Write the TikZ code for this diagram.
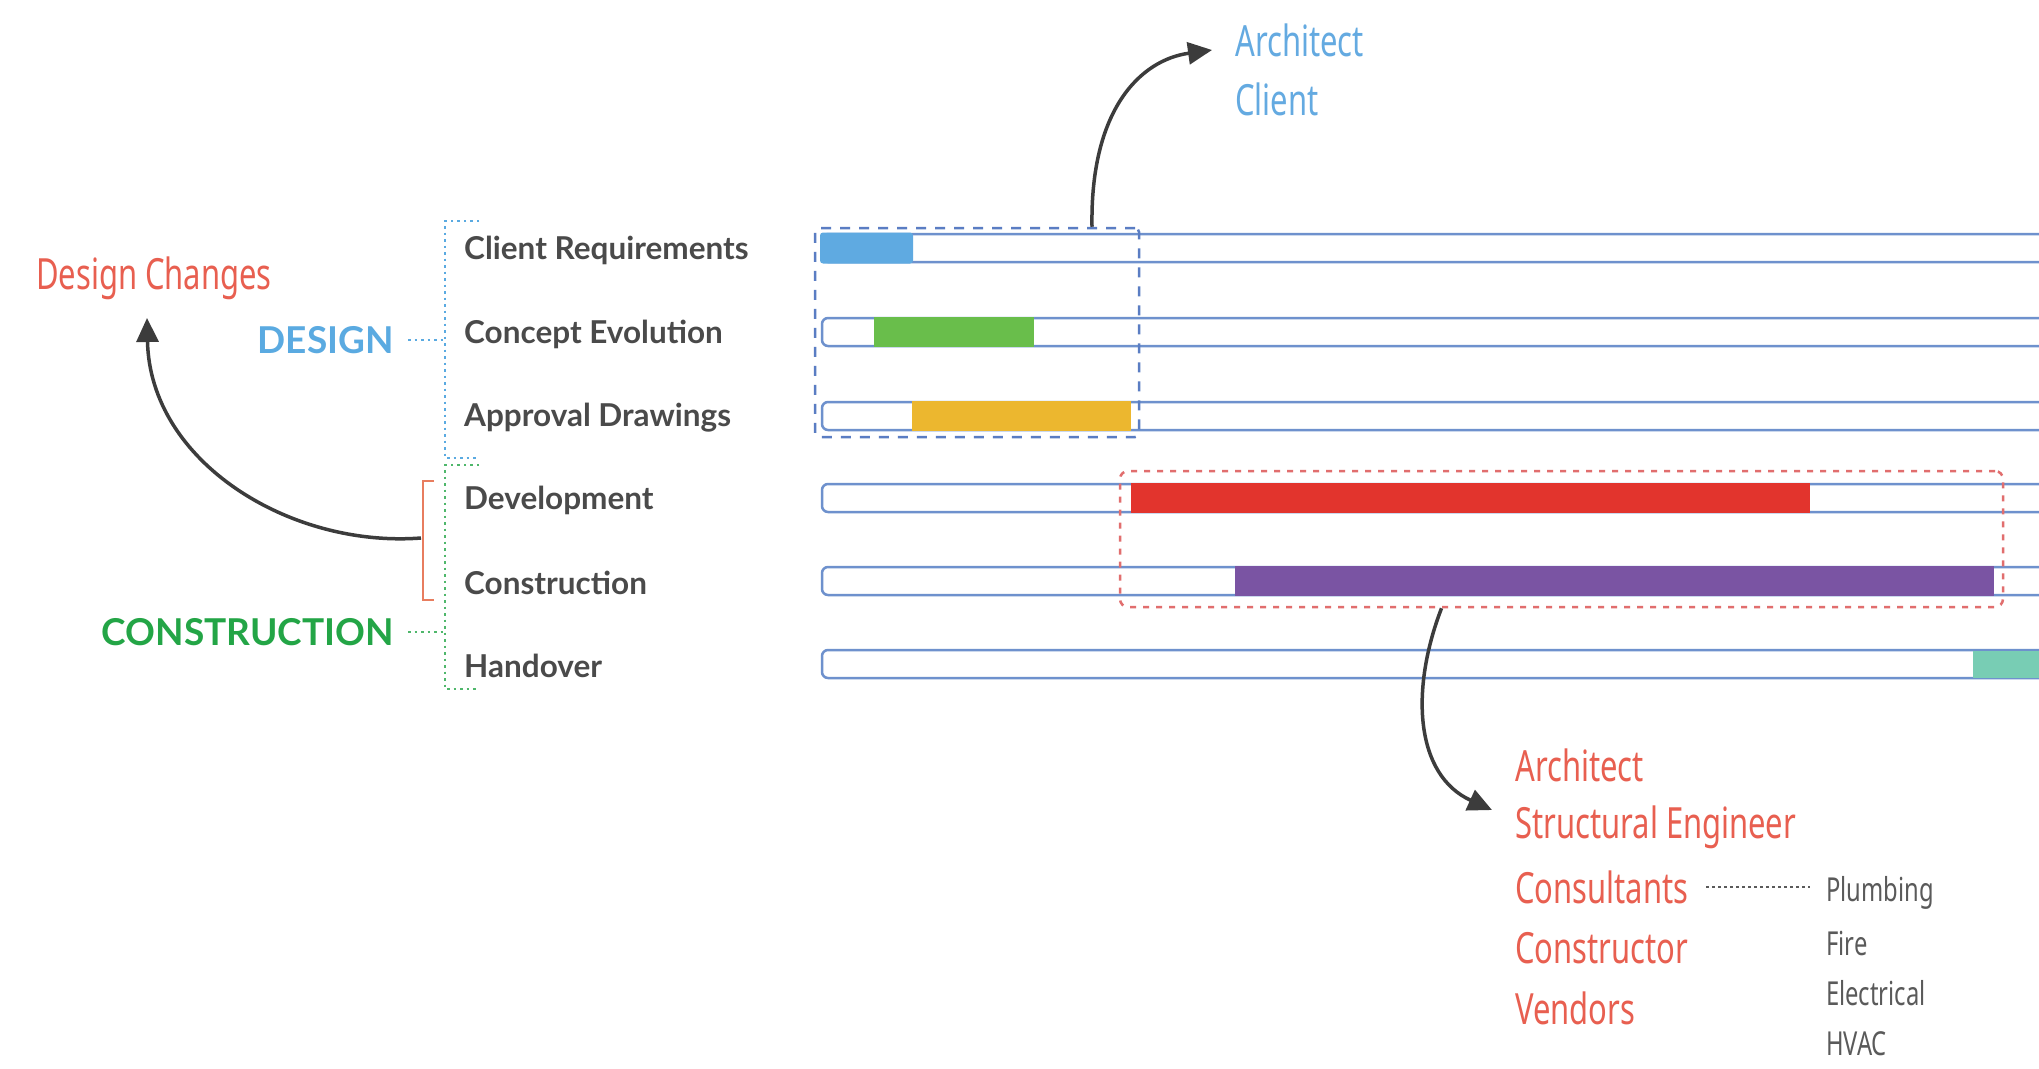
\documentclass[tikz,border=0pt]{standalone}
\usepackage{fontspec}
\setmainfont{Lato}
\newfontfamily\hand[FakeStretch=0.72]{Noto Sans}
\usetikzlibrary{arrows.meta}
\definecolor{barline}{RGB}{110,145,205}
\definecolor{dboxc}{RGB}{90,125,195}
\definecolor{rboxc}{RGB}{225,110,110}
\definecolor{fblue}{RGB}{95,170,225}
\definecolor{fgreen}{RGB}{105,190,75}
\definecolor{fyellow}{RGB}{236,183,47}
\definecolor{fred}{RGB}{226,52,45}
\definecolor{fpurple}{RGB}{122,84,163}
\definecolor{fteal}{RGB}{120,205,180}
\definecolor{labc}{RGB}{74,74,74}
\definecolor{designc}{RGB}{90,170,225}
\definecolor{constc}{RGB}{35,165,70}
\definecolor{handred}{RGB}{232,95,80}
\definecolor{handblue}{RGB}{100,170,225}
\definecolor{listgray}{RGB}{90,90,90}
\definecolor{arrowc}{RGB}{60,60,60}
\definecolor{bracketc}{RGB}{232,125,95}
\tikzset{
  lab/.style={anchor=west, inner sep=0pt, text=labc, font=\fontsize{31.5}{34}\selectfont\bfseries},
  phase/.style={anchor=east, inner sep=0pt, font=\fontsize{37}{40}\selectfont\bfseries},
  handr/.style={anchor=west, inner sep=0pt, text=handred, font=\hand\fontsize{43}{46}\selectfont},
  handb/.style={anchor=west, inner sep=0pt, text=handblue, font=\hand\fontsize{43}{46}\selectfont},
  gl/.style={anchor=west, inner sep=0pt, text=listgray, font=\hand\fontsize{33}{36}\selectfont},
  barbox/.style={draw=barline, line width=2.5pt, fill=white, rounded corners=6pt},
  seg/.style={rounded corners=3pt},
  curvearrow/.style={draw=arrowc, line width=3.5pt, -{Triangle[length=24pt,width=22pt]}},
  dotb/.style={draw=designc, line width=2.5pt, dash pattern=on 2.5pt off 4pt},
  dotg/.style={draw=constc!80, line width=2.5pt, dash pattern=on 2.5pt off 4pt},
}
\begin{document}
\begin{tikzpicture}[x=1pt,y=-1pt]
\useasboundingbox (0,0) rectangle (2039,1068);
\clip (0,0) rectangle (2039,1068);
\fill[white] (0,0) rectangle (2039,1068);

% bars
\foreach \y/\n in {248/b1,332/b2,416/b3,498/b4,581/b5,664/b6}{
  \draw[barbox] (822,\y-14) rectangle (2120,\y+14);
  \coordinate (\n) at (822,\y);
}
% segments
\fill[fblue, seg] (820,248-15.5) rectangle (913,248+15.5);
\fill[fgreen] (874,332-15) rectangle (1034,332+15);
\fill[fyellow] (912,416-15) rectangle (1131,416+15);
\fill[fred] (1131,498-15) rectangle (1810,498+15);
\fill[fpurple] (1235,581-15) rectangle (1994,581+15);
\fill[fteal] (1973,664-13.5) rectangle (2045,664+13.5);

% dashed boxes
\node[draw=dboxc, line width=2.5pt, dash pattern=on 10pt off 9pt, rounded corners=4pt,
      minimum width=324pt, minimum height=209pt, inner sep=0pt] (dbox) at (977,332.5) {};
\node[draw=rboxc, line width=2.5pt, dash pattern=on 6pt off 7pt, rounded corners=8pt,
      minimum width=883pt, minimum height=136pt, inner sep=0pt] (rbox) at (1561.5,539) {};

% labels
\node[lab] (l1) at (464,250) {Client Requirements};
\node[lab] (l2) at (464,334) {Concept Evolution};
\node[lab] (l3) at (464,418) {Approval Drawings};
\node[lab] (l4) at (464,500) {Development};
\node[lab] (l5) at (464,583) {Construction};
\node[lab] (l6) at (464,666) {Handover};

% phase labels
\node[phase, text=designc] (design) at (394,340) {DESIGN};
\node[phase, text=constc] (constr) at (394,632) {CONSTRUCTION};

% dotted brackets
\draw[dotb] (479,221) -- (445,221) -- (445,458) -- (479,458);
\draw[dotg] (479,465) -- (445,465) -- (445,689) -- (479,689);
\draw[dotb] (design.east) ++(14,0) coordinate (d0) -- (d0 -| 443,0);
\draw[dotg] (constr.east) ++(14,0) coordinate (c0) -- (c0 -| 443,0);

% orange bracket
\draw[bracketc, line width=2.5pt] (434,481) -- (423,481) -- (423,600) -- (434,600);
\coordinate (brmid) at (421,538);

% design changes
\node[handr, anchor=west] (dc) at (36,278) {Design Changes};
\draw[curvearrow] (brmid) .. controls (290,548) and (150,462) .. (147,318);

% top arrow to architect/client
\node[handb] (archA) at (1235,40) {Architect};
\node[handb] (clientA) at (1235,99) {Client};
\draw[curvearrow] ([xshift=115pt]dbox.north) .. controls (1090,110) and (1140,60) .. (1212,50);

% bottom arrow to team list
\node[handr] (r1) at (1515,765) {Architect};
\node[handr] (r2) at (1515,827) {Structural Engineer};
\node[handr] (r3) at (1515,887) {Consultants};
\node[handr] (r4) at (1515,948) {Constructor};
\node[handr] (r5) at (1515,1008) {Vendors};
\draw[curvearrow] ([xshift=-120pt]rbox.south) .. controls (1410,690) and (1415,775) .. (1492,810);

% consultants sub-list
\node[gl] (g1) at (1826,893) {Plumbing};
\node[gl] (g2) at (1826,943) {Fire};
\node[gl] (g3) at (1826,993) {Electrical};
\node[gl] (g4) at (1826,1044) {HVAC};
\draw[draw=listgray, line width=2pt, dash pattern=on 2.5pt off 3.5pt] ([xshift=18pt]r3.east) -- ([xshift=-16pt]g1.west |- r3.east);
\end{tikzpicture}
\end{document}
